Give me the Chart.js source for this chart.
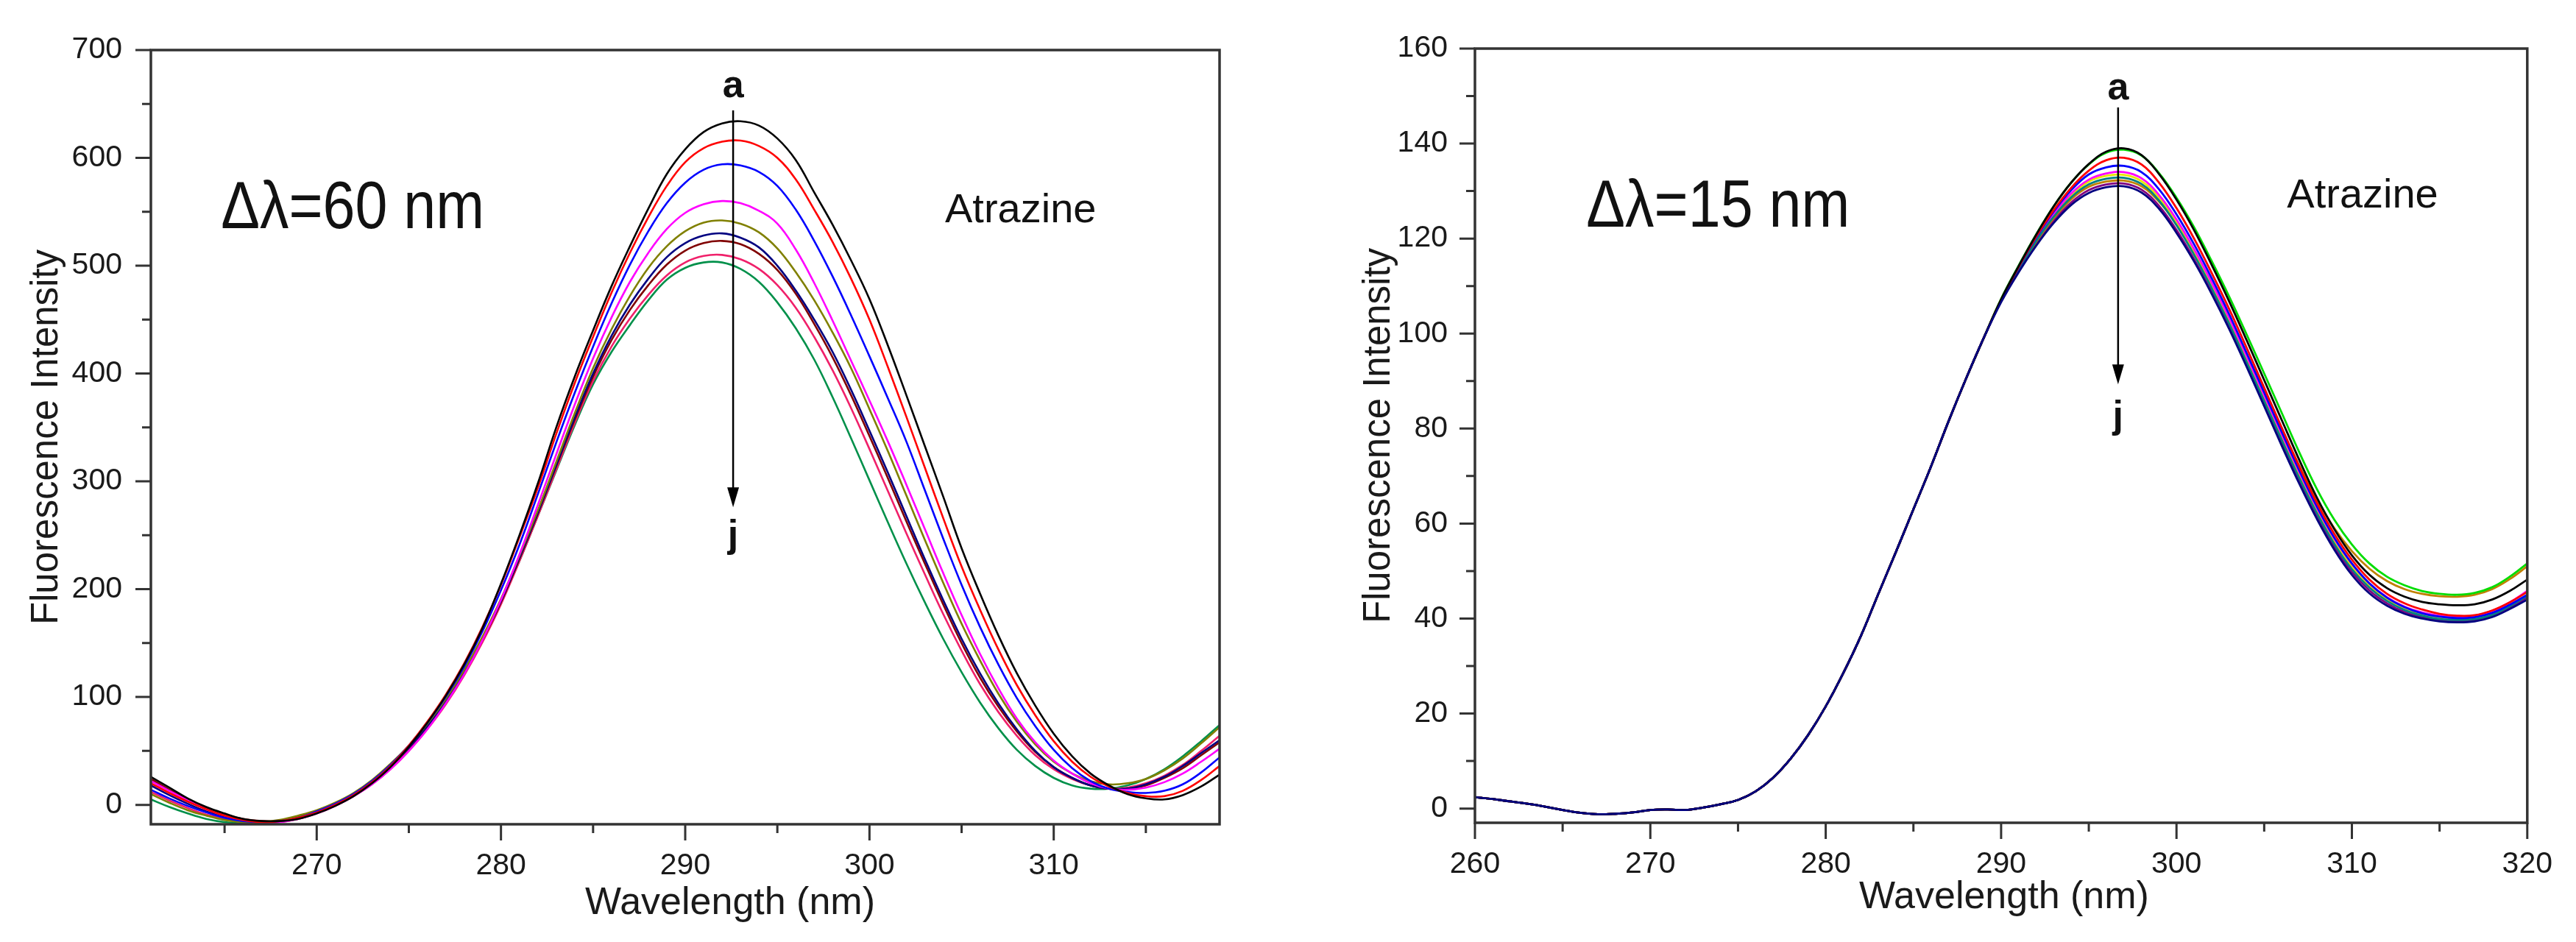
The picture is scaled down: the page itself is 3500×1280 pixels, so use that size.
<!DOCTYPE html>
<html>
<head>
<meta charset="utf-8">
<title>Atrazine synchronous fluorescence</title>
<script src="https://cdn.jsdelivr.net/npm/chart.js@4.4.1/dist/chart.umd.min.js"></script>
<style>
  html, body { margin: 0; padding: 0; background: #fff; }
  #wrap { position: relative; width: 3500px; height: 1280px; background: #fff; }
  #left { position: absolute; left: 0; top: 0; width: 1750px; height: 1280px; }
  #right { position: absolute; left: 1800px; top: 0; width: 1700px; height: 1280px; }
</style>
</head>
<body>
<div id="wrap">
  <canvas id="left" width="1750" height="1280"></canvas>
  <canvas id="right" width="1700" height="1280"></canvas>
</div>
<script>
// ---- left panel (delta lambda = 60 nm) ----
const leftWave = [261, 262, 263, 264, 265, 266, 267, 268, 269, 270,
  271, 272, 273, 274, 275, 276, 277, 278, 279, 280,
  281, 282, 283, 284, 285, 286, 287, 288, 289, 290,
  291, 292, 293, 294, 295, 296, 297, 298, 299, 300,
  301, 302, 303, 304, 305, 306, 307, 308, 309, 310,
  311, 312, 313, 314, 315, 316, 317, 318, 319];

const left_a = [26, 16, 6, -2, -8, -13, -15, -15, -13, -8,
  -1, 8, 20, 35, 54, 76, 101, 130, 164, 205,
  250, 298, 350, 397, 440, 481, 518, 553, 585, 608,
  624, 632, 634, 630, 618, 598, 568, 538, 505, 469,
  426, 380, 333, 286, 238, 196, 157, 122, 92, 66,
  45, 29, 18, 10, 6, 5, 9, 17, 28];
const left_b = [20, 11, 3, -4, -10, -14, -16, -15, -12, -7,
  0, 9, 21, 36, 55, 77, 102, 131, 165, 204,
  248, 294, 344, 391, 434, 475, 512, 545, 574, 596,
  609, 615, 616, 611, 600, 580, 552, 522, 488, 450,
  406, 360, 313, 266, 221, 181, 144, 111, 83, 59,
  40, 26, 17, 11, 8, 8, 13, 23, 36];
const left_c = [14, 6, -1, -7, -12, -15, -16, -15, -12, -6,
  1, 10, 22, 37, 55, 76, 100, 128, 161, 199,
  241, 288, 336, 382, 425, 465, 501, 532, 558, 577,
  589, 594, 593, 587, 574, 552, 523, 490, 454, 416,
  377, 337, 292, 247, 204, 165, 130, 99, 73, 51,
  34, 22, 15, 12, 11, 13, 19, 30, 44];
const left_d = [22, 13, 4, -4, -10, -14, -16, -16, -13, -8,
  -1, 8, 19, 33, 50, 70, 94, 121, 153, 190,
  232, 278, 325, 371, 414, 452, 485, 512, 534, 549,
  557, 560, 558, 551, 539, 515, 484, 449, 412, 375,
  337, 297, 256, 215, 176, 140, 108, 80, 58, 41,
  29, 20, 15, 14, 16, 21, 29, 40, 52];
const left_e = [10, 2, -5, -10, -14, -16, -16, -14, -10, -5,
  2, 11, 23, 38, 55, 75, 98, 125, 156, 191,
  231, 273, 318, 363, 405, 441, 472, 498, 518, 532,
  540, 542, 539, 531, 516, 494, 468, 438, 405, 367,
  328, 287, 246, 206, 168, 134, 103, 77, 56, 40,
  29, 22, 19, 20, 24, 32, 43, 57, 72];
const left_f = [18, 9, 1, -6, -11, -15, -16, -15, -12, -7,
  0, 9, 21, 36, 53, 73, 96, 123, 154, 189,
  229, 271, 315, 359, 400, 435, 464, 488, 508, 521,
  528, 530, 526, 517, 500, 477, 450, 420, 385, 347,
  308, 268, 228, 190, 154, 122, 94, 70, 50, 35,
  25, 18, 15, 15, 19, 26, 36, 48, 60];
const left_g = [24, 14, 5, -3, -9, -13, -15, -15, -12, -7,
  0, 9, 20, 35, 52, 72, 95, 122, 153, 188,
  228, 270, 314, 357, 397, 431, 459, 482, 501, 514,
  521, 523, 520, 511, 496, 474, 446, 415, 380, 342,
  303, 263, 224, 186, 150, 118, 91, 68, 49, 35,
  25, 18, 15, 15, 18, 25, 34, 46, 58];
const left_h = [12, 4, -3, -9, -13, -16, -17, -16, -13, -8,
  -1, 8, 19, 33, 50, 70, 93, 120, 151, 186,
  226, 268, 311, 354, 393, 425, 451, 473, 491, 503,
  509, 510, 506, 497, 482, 461, 434, 403, 368, 330,
  291, 252, 214, 177, 143, 112, 86, 64, 46, 33,
  24, 18, 15, 16, 20, 27, 37, 50, 64];
const left_i = [5, -2, -8, -13, -16, -17, -17, -15, -11, -6,
  1, 10, 22, 36, 53, 73, 96, 123, 153, 188,
  226, 268, 310, 352, 390, 420, 445, 468, 487, 498,
  503, 503, 497, 485, 466, 442, 413, 378, 340, 301,
  262, 224, 188, 154, 123, 95, 71, 51, 36, 25,
  18, 15, 15, 18, 24, 33, 45, 59, 74];

const leftSeries = [left_a, left_b, left_c, left_d, left_e, left_f, left_g, left_h, left_i];
const leftNames = ['a', 'b', 'c', 'd', 'e', 'f', 'g', 'h', 'i'];
const leftColors = ['#000000', '#ff0000', '#0000ff', '#ff00ff', '#808000',
  '#000080', '#800000', '#f0206a', '#00904a'];

// ---- right panel (delta lambda = 15 nm) ----
const rightWave = [260, 261, 262, 263, 264, 265, 266, 267, 268, 269,
  270, 271, 272, 273, 274, 275, 276, 277, 278, 279,
  280, 281, 282, 283, 284, 285, 286, 287, 288, 289,
  290, 291, 292, 293, 294, 295, 296, 297, 298, 299,
  300, 301, 302, 303, 304, 305, 306, 307, 308, 309,
  310, 311, 312, 313, 314, 315, 316, 317, 318, 319, 320];

const right_a = [2.4, 2.0, 1.5, 1.0, 0.4, -0.3, -0.9, -1.2, -1.1, -0.8,
  -0.3, -0.2, -0.3, 0.2, 0.9, 1.8, 3.6, 6.5, 10.5, 15.5,
  21.5, 28.5, 36.3, 45.2, 54.0, 63.0, 72.0, 81.5, 90.5, 99.0,
  107.2, 114.2, 120.8, 126.8, 131.8, 135.7, 138.3, 139.0, 137.6, 133.6,
  128.2, 121.8, 114.5, 106.8, 98.6, 90.2, 81.8, 73.4, 65.5, 58.8,
  53.3, 49.2, 46.4, 44.6, 43.5, 43.0, 42.8, 43.0, 44.0, 45.8, 48.2];
const right_b = [2.4, 2.0, 1.5, 1.0, 0.4, -0.3, -0.9, -1.2, -1.1, -0.8,
  -0.3, -0.2, -0.3, 0.2, 0.9, 1.8, 3.6, 6.5, 10.5, 15.5,
  21.5, 28.5, 36.3, 45.2, 54.0, 63.0, 72.0, 81.5, 90.5, 99.0,
  107.1, 114.0, 120.4, 126.0, 130.7, 134.3, 136.5, 137.0, 135.6, 131.8,
  126.4, 120.0, 112.8, 105.2, 97.0, 88.6, 80.2, 72.0, 64.4, 57.8,
  52.4, 48.2, 45.2, 43.2, 41.9, 41.0, 40.6, 40.7, 41.7, 43.4, 45.6];
const right_c = [2.4, 2.0, 1.5, 1.0, 0.4, -0.3, -0.9, -1.2, -1.1, -0.8,
  -0.3, -0.2, -0.3, 0.2, 0.9, 1.8, 3.6, 6.5, 10.5, 15.5,
  21.5, 28.5, 36.3, 45.2, 54.0, 63.0, 72.0, 81.5, 90.5, 99.0,
  107.3, 114.3, 120.9, 126.8, 131.8, 135.6, 138.1, 138.7, 137.5, 133.8,
  128.6, 122.4, 115.3, 107.8, 99.8, 91.6, 83.3, 75.0, 67.3, 60.8,
  55.6, 51.6, 48.8, 47.0, 45.8, 45.2, 45.0, 45.4, 46.6, 48.8, 51.6];
const right_d = [2.4, 2.0, 1.5, 1.0, 0.4, -0.3, -0.9, -1.2, -1.1, -0.8,
  -0.3, -0.2, -0.3, 0.2, 0.9, 1.8, 3.6, 6.5, 10.5, 15.5,
  21.5, 28.5, 36.3, 45.2, 54.0, 63.0, 72.0, 81.5, 90.5, 99.0,
  107.1, 113.9, 120.2, 125.7, 130.2, 133.5, 135.0, 135.3, 134.0, 130.4,
  125.1, 118.8, 111.7, 104.1, 95.9, 87.6, 79.3, 71.2, 63.6, 57.0,
  51.6, 47.4, 44.4, 42.4, 41.1, 40.4, 40.1, 40.3, 41.2, 42.9, 45.0];
const right_e = [2.4, 2.0, 1.5, 1.0, 0.4, -0.3, -0.9, -1.2, -1.1, -0.8,
  -0.3, -0.2, -0.3, 0.2, 0.9, 1.8, 3.6, 6.5, 10.5, 15.5,
  21.5, 28.5, 36.3, 45.2, 54.0, 63.0, 72.0, 81.5, 90.5, 99.0,
  106.9, 113.5, 119.5, 124.6, 128.7, 131.4, 132.6, 132.8, 131.5, 128.0,
  122.8, 116.6, 109.6, 102.1, 94.0, 85.8, 77.6, 69.6, 62.2, 55.7,
  50.4, 46.5, 43.7, 41.8, 40.6, 39.9, 39.7, 39.9, 40.8, 42.6, 44.8];
const right_f = [2.4, 2.0, 1.5, 1.0, 0.4, -0.3, -0.9, -1.2, -1.1, -0.8,
  -0.3, -0.2, -0.3, 0.2, 0.9, 1.8, 3.6, 6.5, 10.5, 15.5,
  21.5, 28.5, 36.3, 45.2, 54.0, 63.0, 72.0, 81.5, 90.5, 99.0,
  107.0, 113.8, 119.9, 125.2, 129.5, 132.4, 133.7, 134.0, 132.7, 129.2,
  124.0, 117.8, 110.8, 103.3, 95.2, 87.0, 78.8, 70.8, 63.3, 56.8,
  51.5, 47.4, 44.5, 42.5, 41.3, 40.6, 40.4, 40.6, 41.6, 43.4, 45.8];
const right_g = [2.4, 2.0, 1.5, 1.0, 0.4, -0.3, -0.9, -1.2, -1.1, -0.8,
  -0.3, -0.2, -0.3, 0.2, 0.9, 1.8, 3.6, 6.5, 10.5, 15.5,
  21.5, 28.5, 36.3, 45.2, 54.0, 63.0, 72.0, 81.5, 90.5, 99.0,
  107.0, 113.7, 119.8, 125.0, 129.2, 132.0, 133.2, 133.4, 132.1, 128.6,
  123.4, 117.2, 110.2, 102.7, 94.6, 86.4, 78.2, 70.2, 62.8, 56.3,
  51.0, 47.0, 44.1, 42.2, 41.0, 40.3, 40.0, 40.2, 41.1, 42.8, 45.0];
const right_h = [2.4, 2.0, 1.5, 1.0, 0.4, -0.3, -0.9, -1.2, -1.1, -0.8,
  -0.3, -0.2, -0.3, 0.2, 0.9, 1.8, 3.6, 6.5, 10.5, 15.5,
  21.5, 28.5, 36.3, 45.2, 54.0, 63.0, 72.0, 81.5, 90.5, 99.0,
  106.9, 113.4, 119.3, 124.3, 128.3, 130.9, 132.0, 132.2, 131.0, 127.8,
  123.0, 117.2, 110.6, 103.5, 95.8, 87.9, 79.9, 72.2, 65.1, 59.0,
  54.2, 50.5, 47.9, 46.2, 45.2, 44.7, 44.6, 45.0, 46.2, 48.3, 51.0];
const right_i = [2.4, 2.0, 1.5, 1.0, 0.4, -0.3, -0.9, -1.2, -1.1, -0.8,
  -0.3, -0.2, -0.3, 0.2, 0.9, 1.8, 3.6, 6.5, 10.5, 15.5,
  21.5, 28.5, 36.3, 45.2, 54.0, 63.0, 72.0, 81.5, 90.5, 99.0,
  106.6, 112.9, 118.5, 123.3, 127.1, 129.6, 130.8, 131.0, 129.7, 126.3,
  121.2, 115.2, 108.4, 101.0, 93.0, 84.7, 76.4, 68.4, 61.0, 54.5,
  49.2, 45.3, 42.7, 41.0, 40.0, 39.4, 39.2, 39.4, 40.3, 42.0, 44.0];
const right_j = [2.4, 2.0, 1.5, 1.0, 0.4, -0.3, -0.9, -1.2, -1.1, -0.8,
  -0.3, -0.2, -0.3, 0.2, 0.9, 1.8, 3.6, 6.5, 10.5, 15.5,
  21.5, 28.5, 36.3, 45.2, 54.0, 63.0, 72.0, 81.5, 90.5, 99.0,
  106.8, 113.2, 118.9, 123.8, 127.6, 130.2, 131.4, 131.6, 130.3, 126.9,
  121.8, 115.7, 108.8, 101.4, 93.4, 85.2, 77.0, 69.0, 61.6, 55.1,
  49.8, 45.9, 43.2, 41.4, 40.3, 39.7, 39.5, 39.7, 40.6, 42.3, 44.5];

const rightSeries = [right_a, right_b, right_c, right_d, right_e, right_f, right_g, right_h, right_i, right_j];
const rightNames = ['a', 'b', 'c', 'd', 'e', 'f', 'g', 'h', 'i', 'j'];
const rightColors = ['#000000', '#ff0000', '#00dd00', '#0000ff', '#008080',
  '#ff00ff', '#e6e600', '#c08000', '#000080', '#800080'];

Chart.defaults.font.family = '"Liberation Sans", Arial, sans-serif';
const ink = '#1a1a1a';
const tickFont = { size: 41 };
const titleFont = { size: 51 };

// frame, outward Origin-style ticks, arrow and text notes
const extras = {
  id: 'extras',
  afterDatasetsDraw(chart, args, o) {
    const { ctx, chartArea: a, scales: { x, y } } = chart;
    ctx.save();
    ctx.strokeStyle = '#333';
    ctx.lineWidth = 3.5;
    ctx.strokeRect(a.left, a.top, a.right - a.left, a.bottom - a.top);

    ctx.lineWidth = 3;
    ctx.beginPath();
    for (let v = Math.ceil(x.min / o.xMinor) * o.xMinor; v <= x.max + 1e-6; v += o.xMinor) {
      const px = x.getPixelForValue(v);
      const len = Math.abs(v % o.xMajor) < 1e-6 ? 22 : 12;
      ctx.moveTo(px, a.bottom);
      ctx.lineTo(px, a.bottom + len);
    }
    for (let v = Math.ceil(y.min / o.yMinor) * o.yMinor; v <= y.max + 1e-6; v += o.yMinor) {
      const py = y.getPixelForValue(v);
      const len = Math.abs(v % o.yMajor) < 1e-6 ? 21 : 12;
      ctx.moveTo(a.left, py);
      ctx.lineTo(a.left - len, py);
    }
    ctx.stroke();

    // arrow a -> j
    const ax = x.getPixelForValue(o.arrow.x);
    const y1 = y.getPixelForValue(o.arrow.from);
    const y2 = y.getPixelForValue(o.arrow.to);
    ctx.strokeStyle = '#000';
    ctx.fillStyle = '#000';
    ctx.lineWidth = 2.5;
    ctx.beginPath();
    ctx.moveTo(ax, y1);
    ctx.lineTo(ax, y2 - 20);
    ctx.stroke();
    ctx.beginPath();
    ctx.moveTo(ax, y2);
    ctx.lineTo(ax - 8, y2 - 27);
    ctx.lineTo(ax + 8, y2 - 27);
    ctx.closePath();
    ctx.fill();

    o.notes.forEach(n => {
      ctx.save();
      ctx.font = n.font;
      ctx.fillStyle = '#111';
      ctx.textAlign = n.align || 'left';
      ctx.textBaseline = 'alphabetic';
      ctx.translate(x.getPixelForValue(n.x), y.getPixelForValue(n.y));
      ctx.scale(1, n.sy || 1);
      ctx.fillText(n.text, 0, 0);
      ctx.restore();
    });

    // x axis title
    ctx.font = '52px "Liberation Sans", Arial, sans-serif';
    ctx.fillStyle = ink;
    ctx.textAlign = 'center';
    ctx.textBaseline = 'middle';
    ctx.fillText('Wavelength (nm)', (a.left + a.right) / 2 + o.xTitle.dx, a.bottom + o.xTitle.dy);
    ctx.restore();
  }
};

function makeSets(wave, series, names, colors, width, topIndex) {
  return series.map((s, i) => ({
    label: names[i],
    data: wave.map((w, k) => ({ x: w, y: s[k] })),
    borderColor: colors[i],
    borderWidth: width,
    pointRadius: 0,
    tension: 0.4,
    fill: false,
    order: i === topIndex ? 0 : 1
  }));
}

function makeChart(id, cfg) {
  return new Chart(document.getElementById(id), {
    type: 'line',
    data: { datasets: cfg.datasets },
    options: {
      responsive: false,
      animation: false,
      devicePixelRatio: 1,
      layout: { padding: cfg.padding },
      plugins: {
        legend: { display: false },
        tooltip: { enabled: false },
        extras: cfg.extras
      },
      scales: {
        x: {
          type: 'linear',
          min: cfg.xMin,
          max: cfg.xMax,
          grid: { display: false, drawTicks: false },
          border: { display: false },
          ticks: { stepSize: 10, includeBounds: false, autoSkip: false, maxRotation: 0,
            padding: 32, font: tickFont, color: ink },
          afterFit: s => { s.height = cfg.xHeight; }
        },
        y: {
          min: cfg.yMin,
          max: cfg.yMax,
          grid: { display: false, drawTicks: false },
          border: { display: false },
          ticks: { stepSize: cfg.yStep, includeBounds: false, autoSkip: false,
            padding: cfg.yPad, font: tickFont, color: ink },
          title: { display: true, text: 'Fluorescence Intensity', font: titleFont, color: ink,
            padding: { top: cfg.yTitlePad, bottom: 0 } },
          afterFit: s => { s.width = cfg.yWidth; }
        }
      }
    },
    plugins: [extras]
  });
}

makeChart('left', {
  datasets: makeSets(leftWave, leftSeries, leftNames, leftColors, 2.6, -1),
  padding: { left: 0, right: 93, top: 68, bottom: 0 },
  xMin: 261, xMax: 319, xHeight: 160,
  yMin: -18, yMax: 700, yStep: 100, yPad: 39, yWidth: 205, yTitlePad: 33,
  extras: {
    xMinor: 5, xMajor: 10, yMinor: 50, yMajor: 100,
    arrow: { x: 292.6, from: 644, to: 276 },
    xTitle: { dx: 61, dy: 108 },
    notes: [
      { text: '\u0394\u03bb=60 nm', x: 264.8, y: 535, font: '79px "Liberation Sans", Arial, sans-serif', sy: 1.15 },
      { text: 'Atrazine', x: 304.1, y: 540, font: '56px "Liberation Sans", Arial, sans-serif' },
      { text: 'a', x: 292.6, y: 656, align: 'center', font: 'bold 52px "Liberation Sans", Arial, sans-serif' },
      { text: 'j', x: 292.6, y: 239, align: 'center', font: 'bold 52px "Liberation Sans", Arial, sans-serif' }
    ]
  }
});

makeChart('right', {
  datasets: makeSets(rightWave, rightSeries, rightNames, rightColors, 2.8, 8),
  padding: { left: 0, right: 60, top: 66, bottom: 0 },
  xMin: 260, xMax: 320, xHeight: 162,
  yMin: -3, yMax: 160, yStep: 20, yPad: 37, yWidth: 204, yTitlePad: 43,
  extras: {
    xMinor: 5, xMajor: 10, yMinor: 10, yMajor: 20,
    arrow: { x: 296.67, from: 147.6, to: 89.3 },
    xTitle: { dx: 4, dy: 102 },
    notes: [
      { text: '\u0394\u03bb=15 nm', x: 266.35, y: 122.5, font: '79px "Liberation Sans", Arial, sans-serif', sy: 1.15 },
      { text: 'Atrazine', x: 306.3, y: 126.6, font: '56px "Liberation Sans", Arial, sans-serif' },
      { text: 'a', x: 296.67, y: 149.3, align: 'center', font: 'bold 52px "Liberation Sans", Arial, sans-serif' },
      { text: 'j', x: 296.67, y: 80.2, align: 'center', font: 'bold 52px "Liberation Sans", Arial, sans-serif' }
    ]
  }
});
</script>
</body>
</html>
